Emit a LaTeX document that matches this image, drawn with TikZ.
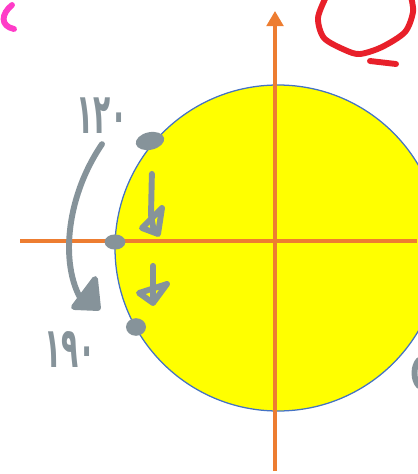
\documentclass[tikz,border=0pt]{standalone}
\usepackage{fontspec}
\usepackage{tikz}
\usetikzlibrary{arrows.meta,shapes.geometric}
\newfontfamily\arabicfont[Script=Arabic]{DejaVu Sans}
\definecolor{sunYellow}{HTML}{FFFF00}
\definecolor{rimBlue}{HTML}{4472C4}
\definecolor{axisOrange}{HTML}{ED7D31}
\definecolor{penGray}{HTML}{86939A}
\definecolor{penRed}{HTML}{E8202A}
\definecolor{penPink}{HTML}{FF3CC8}

\begin{document}
\begin{tikzpicture}[x=0.025cm, y=-0.025cm,
    pen/.style={draw=penGray, line width=4.2pt, line cap=round, line join=round},
    blob/.style={ellipse, fill=penGray, draw=none, inner sep=0pt},
    hand/.style={text=penGray, inner sep=0pt, xscale=0.5, transform shape,
      font=\arabicfont\bfseries\fontsize{40}{40}\selectfont},
    axis/.style={draw=axisOrange, line width=2.3pt}]
  \useasboundingbox (0,0) rectangle (417,474);
  % unit circle, 1 px = 0.025 cm
  \filldraw[fill=sunYellow, draw=rimBlue, line width=0.9pt] (278,248) circle [radius=163];
  \draw[axis] (20,241) -- (417,241);
  \draw[axis, -{Triangle[length=0.38cm, width=0.42cm]}] (275,471) -- (275,11);

  % points on the circle
  \node[blob, minimum width=0.72cm, minimum height=0.44cm, rotate=12] (top) at (150,141) {};
  \node[blob, minimum width=0.52cm, minimum height=0.38cm] (mid) at (115,242) {};
  \node[blob, minimum width=0.5cm, minimum height=0.44cm] (bot) at (136,327) {};

  % labels
  \node[hand] (lbl120) at (102,116) {۱۲۰};
  \node[hand] (lbl190) at (70,349) {۱۹۰};

  % sweep from one angle to the other
  \draw[pen] ([yshift=-0.25cm]lbl120.south) .. controls (64,200) and (60,270) .. (84,304);
  \draw[pen, fill=penGray] (74,307) -- (95,279) -- (98,308) -- cycle;

  % small arrows inside the circle
  \draw[pen] ([yshift=-0.6cm]top.south) -- (151,215) -- (154,232);
  \draw[pen] (142,228) -- (162,208) -- (158,234) -- cycle;
  \draw[pen] ([yshift=-0.4cm]mid.south -| 153,0) -- (153,300);
  \draw[pen] (139,293) -- (167,284) -- (153,303) -- cycle;

  % scribbles at the edges
  \draw[draw=penRed, line width=4.2pt, line cap=round, line join=round]
    plot[smooth] coordinates {(326,-3) (318,18) (324,38) (345,50) (360,54) (382,47) (405,32) (413,12) (411,-3)};
  \draw[draw=penRed, line width=4.2pt, line cap=round] (370,61) -- (396,64);
  \draw[draw=penPink, line width=4.2pt, line cap=round] (12,5) .. controls (1,14) and (0,26) .. (14,29);
  \draw[pen] (419,360) .. controls (413,366) and (413,380) .. (419,386);
\end{tikzpicture}
\end{document}
